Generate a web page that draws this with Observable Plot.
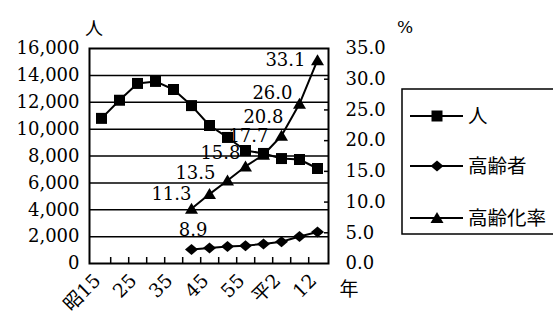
<!DOCTYPE html>
<html>
<head>
<meta charset="utf-8">
<script src="https://cdn.jsdelivr.net/npm/d3@7"></script>
<script src="https://cdn.jsdelivr.net/npm/@observablehq/plot@0.6"></script>
<style>
  html, body { margin: 0; padding: 0; background: #fff; }
  #chart { width: 553px; height: 320px; overflow: hidden; }
</style>
</head>
<body>
<div id="chart"></div>
<script>
// Survey years (Showa / Heisei)
const categories = ["昭15", "20", "25", "30", "35", "40", "45", "50", "55", "60", "平2", "7", "12"];
const xTickLabels = ["昭15", "25", "35", "45", "55", "平2", "12"];

// Total population (人)
const population = [10800, 12150, 13400, 13550, 12950, 11750, 10270, 9380, 8410, 8190, 7810, 7740, 7070];

// Elderly population and aging rate, from 昭40 on
const elderlyYears = ["40", "45", "50", "55", "60", "平2", "7", "12"];
const elderly = [1050, 1160, 1270, 1330, 1450, 1620, 2010, 2340];
const agingRate = [8.9, 11.3, 13.5, 15.8, 17.7, 20.8, 26.0, 33.1];

// Axis ticks
const leftTicks = [0, 2000, 4000, 6000, 8000, 10000, 12000, 14000, 16000];
const rightTicks = [0, 5, 10, 15, 20, 25, 30, 35];

const seriesNames = ["人", "高齢者", "高齢化率"];

// Label nudges for the rate values [dx, dy]
const rateLabelNudge = [[16, 21], [-18, 0], [-12, -7], [-5, -13], [5, -19], [2, -18], [-7, -11], [-12, 0]];

// The right (%) axis shares the left scale: 35% ↔ 16,000
const k = 16000 / 35;

const popData = categories.map((c, i) => ({year: c, value: population[i]}));
const eldData = elderlyYears.map((c, i) => ({year: c, value: elderly[i]}));
const rateData = elderlyYears.map((c, i) => ({year: c, rate: agingRate[i]}));

const serif = "'DejaVu Serif', 'Noto Sans CJK JP', serif";
const gothic = "'Noto Sans CJK JP', sans-serif";

// Marker shapes
const squareSym = {draw(c) { const s = 5.5; c.moveTo(-s, -s); c.lineTo(s, -s); c.lineTo(s, s); c.lineTo(-s, s); c.closePath(); }};
const diamondSym = {draw(c) { c.moveTo(0, -5.5); c.lineTo(6.5, 0); c.lineTo(0, 5.5); c.lineTo(-6.5, 0); c.closePath(); }};
const triangleSym = {draw(c) { c.moveTo(0, -6); c.lineTo(6.5, 5); c.lineTo(-6.5, 5); c.closePath(); }};
const symbols = [squareSym, diamondSym, triangleSym];

const W = 553, H = 320;
const mL = 89, mR = 225, mT = 48, mB = 57;
const step = (W - mL - mR) / categories.length;

const chart = Plot.plot({
  width: W,
  height: H,
  marginLeft: mL,
  marginRight: mR,
  marginTop: mT,
  marginBottom: mB,
  style: {fontFamily: serif, fontSize: "18px", color: "black", background: "white", overflow: "visible"},
  x: {type: "point", domain: categories, padding: 0.5, label: null},
  y: {domain: [0, 16000], label: null},
  marks: [
    Plot.ruleY(leftTicks.slice(1, -1), {stroke: "black", strokeWidth: 1.5}),
    Plot.frame({stroke: "black", strokeWidth: 2}),
    Plot.axisY(leftTicks, {anchor: "left", tickSize: 0, tickPadding: 10, tickFormat: d3.format(","), label: null}),
    Plot.axisY(rightTicks.map(p => p * k), {anchor: "right", tickSize: 0, tickPadding: 17, tickFormat: d => (d / k).toFixed(1), label: null}),
    Plot.axisY(rightTicks.slice(1, -1).map(p => p * k), {anchor: "right", tickSize: 5, dx: -5, tickFormat: () => "", label: null, strokeWidth: 1.5}),
    Plot.axisX(categories.slice(0, -1), {anchor: "bottom", tickSize: 6, dy: -6, dx: step / 2, tickFormat: () => "", label: null, strokeWidth: 1.5}),
    Plot.axisX(xTickLabels, {anchor: "bottom", tickSize: 0, tickPadding: 14, tickRotate: -45, dx: -4, label: null, fontSize: 19}),
    // 人
    Plot.line(popData, {x: "year", y: "value", stroke: "black", strokeWidth: 2}),
    Plot.dot(popData, {x: "year", y: "value", symbol: squareSym, fill: "black", stroke: "none", r: 5}),
    // 高齢者
    Plot.line(eldData, {x: "year", y: "value", stroke: "black", strokeWidth: 2}),
    Plot.dot(eldData, {x: "year", y: "value", symbol: diamondSym, fill: "black", stroke: "none", r: 5}),
    // 高齢化率 (right axis)
    Plot.line(rateData, {x: "year", y: d => d.rate * k, stroke: "black", strokeWidth: 2}),
    Plot.dot(rateData, {x: "year", y: d => d.rate * k, symbol: triangleSym, fill: "black", stroke: "none", r: 5}),
    ...rateData.map((d, i) => Plot.text([d], {
      x: "year", y: r => r.rate * k, text: r => r.rate.toFixed(1),
      textAnchor: "end", dx: rateLabelNudge[i][0], dy: rateLabelNudge[i][1],
      fontSize: 18, fill: "black"
    }))
  ]
});

document.getElementById("chart").append(chart);

// Unit labels and legend
const svg = d3.select(chart);
svg.append("text").attr("x", 94).attr("y", 29).attr("text-anchor", "middle").attr("dy", "0.35em")
  .style("font-family", gothic).style("font-size", "18px").text("人");
svg.append("text").attr("x", 405).attr("y", 27).attr("text-anchor", "middle").attr("dy", "0.35em")
  .style("font-family", serif).style("font-size", "17px").text("%");
svg.append("text").attr("x", 349).attr("y", 289).attr("text-anchor", "middle").attr("dy", "0.35em")
  .style("font-family", gothic).style("font-size", "19px").text("年");

const legend = svg.append("g");
legend.append("rect").attr("x", 402).attr("y", 89).attr("width", 170).attr("height", 145)
  .attr("fill", "white").attr("stroke", "black").attr("stroke-width", 1.5);
const rowY = [116, 166, 218];
seriesNames.forEach((name, i) => {
  const g = legend.append("g").attr("transform", `translate(0,${rowY[i]})`);
  g.append("line").attr("x1", 410).attr("x2", 463).attr("y1", 0).attr("y2", 0)
    .attr("stroke", "black").attr("stroke-width", 2);
  const p = d3.path();
  symbols[i].draw(p);
  g.append("path").attr("d", p.toString()).attr("transform", "translate(437,0)").attr("fill", "black");
  g.append("text").attr("x", 468).attr("y", 0).attr("dy", "0.35em").attr("text-anchor", "start")
    .style("font-family", gothic).style("font-size", "19.5px").text(name);
});
</script>
</body>
</html>
